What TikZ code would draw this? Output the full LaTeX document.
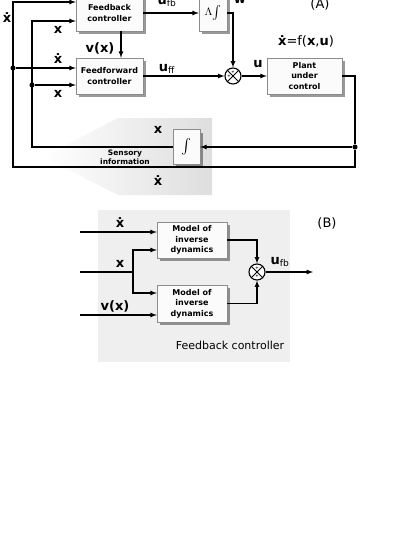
\documentclass[tikz,border=0pt]{standalone}
\usepackage{fontspec}
\setmainfont{DejaVu Sans}
\usetikzlibrary{positioning,shapes,arrows,shadows}
\definecolor{boxfill}{HTML}{FBFBFB}
\definecolor{boxline}{HTML}{8C8C8C}
\definecolor{panel}{HTML}{EFEFEF}
\newcommand{\xd}{{\bfseries ẋ}}
\newcommand{\xb}{{\bfseries x}}
\newcommand{\usub}[1]{{\bfseries u}\textsubscript{#1}}

\begin{document}
\begin{tikzpicture}[
  x=1pt,y=-1pt,
  font=\fontsize{13}{15}\selectfont,
  block/.style={draw=boxline,fill=boxfill,align=center,inner sep=1pt,
    font=\fontsize{8}{10.5}\selectfont\bfseries,
    drop shadow={shadow xshift=3pt,shadow yshift=-3pt,fill=black,opacity=.4}},
  sumj/.style={draw,circle,minimum size=16pt,inner sep=0pt,fill=white,line width=1.1pt,
    path picture={\draw[line width=0.8pt] (path picture bounding box.north west)--(path picture bounding box.south east)
      (path picture bounding box.north east)--(path picture bounding box.south west);}},
  plus/.style={font=\fontsize{4}{4}\selectfont\bfseries,inner sep=0pt},
  sig/.style={line width=1.2pt},
  dot/.style={circle,fill,inner sep=1.8pt},
  >=latex
]
\useasboundingbox (0,0) rectangle (414,536);

% backgrounds
\shade[left color=white,right color=black!13] (212,118) -- (118,118) -- (43,157) -- (118,195) -- (212,195) -- cycle;
\fill[panel] (98,210) rectangle (290,362);

% (A) blocks
\node[block,minimum width=67pt,minimum height=36pt] (fbc) at (109.5,13) {Feedback\\controller};
\node[block,minimum width=67pt,minimum height=36pt] (ffc) at (109.5,76) {Feedforward\\controller};
\node[block,minimum width=28pt,minimum height=36pt,inner sep=0pt] (lam) at (213,13) {\raisebox{-3pt}{\scalebox{1.35}{$\Lambda\!\int$}}};
\node[sumj] (sum) at (233,76) {};
\node[plus] at ([xshift=-4pt]sum.center) {+};
\node[plus] at ([yshift=4pt]sum.center) {+};
\node[block,minimum width=75pt,minimum height=36pt] (plant) at (304.5,76) {Plant\\under\\control};
\node[block,minimum width=27pt,minimum height=35pt,inner sep=0pt] (intg) at (186.5,147) {\scalebox{1.5}{$\int$}};

\coordinate (c1) at (13,2);
\coordinate (c2) at (355,167);
\coordinate (c3) at (32,21);
\node[dot] (d1) at (13,68) {};
\node[dot] (d2) at (32,85) {};
\node[dot] (d3) at (355,147) {};

% (A) connectors
\draw[sig,->] (plant.east) -| (d3) -- (c2) -| (c1) -- (c1 -| fbc.west);
\draw[sig,->] (d3) -- (intg.east);
\draw[sig,->] (intg.west) -| (c3) -- (c3 -| fbc.west);
\draw[sig,->] (d1) -- (d1 -| ffc.west);
\draw[sig,->] (d2) -- (d2 -| ffc.west);
\draw[sig,->] ([xshift=11.5pt]fbc.south) -- ([xshift=11.5pt]ffc.north);
\draw[sig,->] (fbc.east) -- (lam.west);
\draw[sig,->] (lam.east) -| (sum.north);
\draw[sig,->] (ffc.east) -- (sum.west);
\draw[sig,->] (sum.east) -- (plant.west);

% (A) labels
\node (lxd1) at (7,18) {\xd};
\node (lx1) at (58,30) {\xb};
\node (lv) at (100,48) {\bfseries v(x)};
\node (lxd2) at (58,59) {\xd};
\node (lx2) at (58,94) {\xb};
\node (lufb) at (167,2) {\usub{fb}};
\node[anchor=base] (lw) at (240,3) {\bfseries w};
\node[anchor=base] (la) at (320,8) {(A)};
\node (luff) at (167,69) {\usub{ff}};
\node (lu) at (258,64) {\bfseries u};
\node (leq) at (306,41) {\xd=f(\xb,{\bfseries u})};
\node (lx3) at (158,130) {\xb};
\node (lxd3) at (158,181) {\xd};
\node[font=\fontsize{7.5}{9}\selectfont\bfseries,align=center] (sens) at (125,157) {Sensory\\information};

% (B) blocks
\node[block,minimum width=70pt,minimum height=36pt] (m1) at (192,240) {Model of\\inverse\\dynamics};
\node[block,minimum width=70pt,minimum height=37pt] (m2) at (192,303.5) {Model of\\inverse\\dynamics};
\node[sumj] (sum2) at (257,272) {};
\node[plus] at ([yshift=4pt]sum2.center) {+};
\node[plus] at ([yshift=-4pt]sum2.center) {+};

\coordinate (i1) at (80,232);
\coordinate (i2) at (80,272);
\coordinate (i3) at (80,315);
\coordinate (br) at (133,272);
\coordinate (b1) at (133,250);
\coordinate (b2) at (133,293);
\coordinate (o1) at (313,272);

% (B) connectors
\draw[sig,->] (i1) -- (i1 -| m1.west);
\draw[sig] (i2) -- (br);
\draw[sig,->] (br) -- (b1) -- (b1 -| m1.west);
\draw[sig,->] (br) -- (b2) -- (b2 -| m2.west);
\draw[sig,->] (i3) -- (i3 -| m2.west);
\draw[sig,->] (m1.east) -| (sum2.north);
\draw[sig,->] (m2.east) -| (sum2.south);
\draw[sig,->] (sum2.east) -- (o1);

% (B) labels
\node (lxd4) at (120,223) {\xd};
\node (lx4) at (120,264) {\xb};
\node (lv2) at (115,306) {\bfseries v(x)};
\node (lufb2) at (280,262) {\usub{fb}};
\node (lb) at (327,223) {(B)};
\node[font=\fontsize{11}{13}\selectfont] (lfc) at (230,345) {Feedback controller};
\end{tikzpicture}
\end{document}
